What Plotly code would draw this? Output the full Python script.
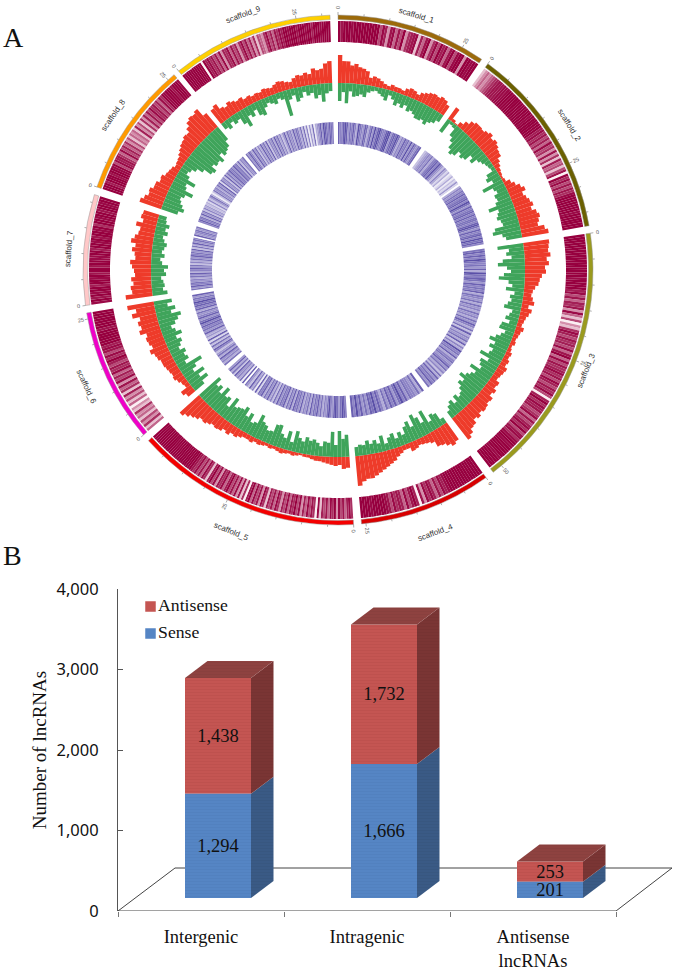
import math
import plotly.graph_objects as go

W, H = 675, 970
CX, CY, RMAX = 338, 270, 262

# ---------- Panel A data ----------
SCAFFOLDS = ["scaffold_1","scaffold_2","scaffold_3","scaffold_4","scaffold_5","scaffold_6","scaffold_7","scaffold_8","scaffold_9"]
SECTOR_START = [0.0, 36.0, 81.7, 144.5, 176.5, 229.7, 262.0, 289.0, 321.3]
SECTOR_END = [34.3, 80.0, 142.5, 174.7, 228.0, 260.3, 287.2, 320.0, 358.2]
BAND_COLORS = ["#9C6A0A","#6B6000","#9A9A1E","#D80000","#F40000","#F000C8","#FFC8C8","#FF9A00","#FFD000"]
TICK_LABELS = [[0,25],[0,25],[0,25,50],[0,25],[0,25],[0,25],[0],[0,25],[0,25]]

RED_1 = [28,22,22,18,20,17,16,14,8,10,9,7,5,4,6,5,5,4,7,9,8,6,9,11,13,14,13,15,14,11]
GREEN_1 = [18,9,20,8,13,12,10,12,7,5,4,6,8,11,5,8,13,10,13,9,14,12,14,17,17,15,18,14,12,8]
RED_2 = [14,3,1,5,9,13,15,15,14,16,18,15,17,15,13,12,8,6,4,3,2,3,7,10,14,17,13,15,17,19,16,20,22,20,18,24,27]
GREEN_2 = [15,3,4,12,16,22,26,24,18,21,19,12,16,10,8,6,5,4,11,14,9,22,12,10,14,13,16,25,16,18,20,17,16,25,28,19,16]
RED_3 = [26,25,24,26,22,24,20,21,17,15,14,11,9,8,10,12,7,11,9,7,6,5,8,6,5,4,5,3,4,6,5,7,6,9,8,7,6,10,9,12,10,14,13,15,16,14,17,15,19,20,24,27]
GREEN_3 = [26,15,18,13,22,27,18,14,21,26,16,12,18,9,13,11,14,17,8,10,13,8,15,16,9,12,16,21,14,18,13,15,23,12,19,17,14,24,16,19,22,27,20,23,18,14,12,16,10,15,12,8]
RED_4 = [21,23,20,17,16,10,8,7,6,8,9,5,5,7,9,12,14,16,18,20,22,24,24,26,30]
GREEN_4 = [6,14,16,10,24,13,20,25,14,21,17,10,14,9,15,12,7,16,9,13,10,14,10,11,9]
RED_5 = [11,12,8,9,8,7,6,5,5,4,3,3,2,3,4,3,4,5,4,3,4,3,4,5,4,6,5,5,7,9,8,11,9,12,13,12,14,16,15,18,20,23,26]
GREEN_5 = [22,18,26,12,25,14,15,10,13,16,14,17,12,15,21,9,19,11,14,22,21,13,12,16,18,24,14,12,20,15,23,19,18,16,24,12,20,18,26,17,23,20,27]
RED_6 = [9,12,5,6,8,10,9,10,11,12,12,14,15,18,14,16,17,15,21,18,20,17,24,19,27]
GREEN_6 = [12,20,13,21,11,16,25,9,14,12,15,10,13,16,12,19,14,11,16,20,24,15,20,13,18]
RED_7 = [27,20,21,18,20,16,17,19,21,16,17,20,17,22,19,16,15,20,14,17,16]
GREEN_7 = [15,11,13,12,10,15,13,17,11,9,13,10,12,14,11,9,13,10,13,9,8]
RED_8 = [23,20,17,18,15,15,12,13,10,9,8,6,7,8,10,12,14,15,17,16,20,24,26,25,27,18]
GREEN_8 = [17,22,19,16,14,17,24,15,13,21,12,8,10,14,20,28,30,24,27,26,29,22,26,24,22,16]
RED_9 = [17,19,13,11,14,12,10,11,8,9,7,8,7,9,8,7,9,11,10,8,7,10,12,11,13,11,16,14,15,20,22]
GREEN_9 = [7,10,5,9,7,14,19,9,12,7,14,16,9,6,8,10,6,8,26,10,7,14,11,6,10,8,14,11,18,10,8]

# density per cell, 0 = dense (dark) ... 9 = empty (white)
HEAT_1 = "02000100000000005137216250743218362074150316205100700100"
HEAT_2 = "8767654322211100000000000001000000314253615472748365852904152524100000001000000"
HEAT_3 = "0000000000000000010000315263427168597841352435162061524314251352415930413254162531405214100100000100000"
HEAT_4 = "00000000000000131526314172930251632415210000010000"
HEAT_5 = "4136251704162538194251637150426153741625384172516039482716250361427150384162514200000000000000000000000"
HEAT_6 = "6847586748796857384627153614253041521300000020000000"
HEAT_7 = "10201003001020020011003001020010400100200100"
HEAT_8 = "0003000200105132461536475867683758473625142536140100020001"
HEAT_9 = "000000000090314252617341625374152637485674153624130010002000100300010000"
BLUE_1 = "1331014231350234125314031023310042120253413240413421"
BLUE_2 = "6543425321303463575875867479534231321302413213132231024132130213"
BLUE_3 = "2131302324150231241323152342524352435241352615342516350324153243142536251423142"
BLUE_4 = "152433241302413142531302142413031"
BLUE_5 = "3102420143024352413241524351423151425132415263514251327183516429182534162514"
BLUE_6 = "2534152463152627164514231302413425131203241"
BLUE_7 = "2413243524153142635241324162514239143242"
BLUE_8 = "313251426354657364258624352417243615241324132516342"
BLUE_9 = "2413514263514251634251425364152435142352627384728543140123123"

RED = [RED_1,RED_2,RED_3,RED_4,RED_5,RED_6,RED_7,RED_8,RED_9]
GREEN = [GREEN_1,GREEN_2,GREEN_3,GREEN_4,GREEN_5,GREEN_6,GREEN_7,GREEN_8,GREEN_9]
HEAT = [HEAT_1,HEAT_2,HEAT_3,HEAT_4,HEAT_5,HEAT_6,HEAT_7,HEAT_8,HEAT_9]
BLUE = [BLUE_1,BLUE_2,BLUE_3,BLUE_4,BLUE_5,BLUE_6,BLUE_7,BLUE_8,BLUE_9]

# ---------- Panel B data ----------
CATEGORIES = ["Intergenic", "Intragenic", "Antisense<br>lncRNAs"]
SENSE = [1294, 1666, 201]
ANTISENSE = [1438, 1732, 253]

fig = go.Figure()

def cells(values):
    th, wd, val = [], [], []
    for s, (a, b) in enumerate(zip(SECTOR_START, SECTOR_END)):
        n = len(values[s]); w = (b - a) / n
        for i, v in enumerate(values[s]):
            th.append(a + (i + .5) * w); wd.append(w * 1.02); val.append(int(v))
    return th, wd, val

# colored outer band
fig.add_trace(go.Barpolar(theta=[(a+b)/2 for a,b in zip(SECTOR_START,SECTOR_END)],
    width=[b-a for a,b in zip(SECTOR_START,SECTOR_END)], r=[4.5]*9, base=[250.5]*9,
    marker=dict(color=BAND_COLORS, line=dict(width=.5, color="#999999")), showlegend=False, hoverinfo="skip"))

# heat rings
RING_SCALES = [
    [[0,"#97003F"],[.4,"#A5255A"],[.7,"#C66E92"],[1,"#FBEFF3"]],
    [[0,"#5B50A8"],[.35,"#8F87C6"],[.7,"#CBC6E5"],[1,"#FFFFFF"]],
]
for vals, base, thick, scale in [(HEAT, 228, 21, RING_SCALES[0]), (BLUE, 126, 22, RING_SCALES[1])]:
    th, wd, val = cells(vals)
    fig.add_trace(go.Barpolar(theta=th, width=wd, r=[thick]*len(th), base=[base]*len(th),
        marker=dict(color=val, colorscale=scale, cmin=0, cmax=9, showscale=False, line=dict(width=0)),
        showlegend=False, hoverinfo="skip"))

# histogram ring
BASELINE = 187
th, wd, val = cells(RED)
fig.add_trace(go.Barpolar(theta=th, width=wd, r=val, base=[BASELINE]*len(th),
    marker=dict(color="#EE3B2A", line=dict(width=0)), showlegend=False, hoverinfo="skip"))
th, wd, val = cells(GREEN)
fig.add_trace(go.Barpolar(theta=th, width=wd, r=val, base=[BASELINE-v for v in val],
    marker=dict(color="#3FA45B", line=dict(width=0)), showlegend=False, hoverinfo="skip"))

# ticks on the outer band
DEG_PER_UNIT = 29.2 / 25
tt, tr = [], []
for a, b in zip(SECTOR_START, SECTOR_END):
    u = 0
    while a + u * DEG_PER_UNIT <= b + .01:
        t = a + u * DEG_PER_UNIT
        tt += [t, t, None]; tr += [255, 258 if u % 25 == 0 else 257, None]
        u += 5
fig.add_trace(go.Scatterpolar(theta=tt, r=tr, mode="lines", line=dict(color="#888888", width=.7),
    showlegend=False, hoverinfo="skip"))

def pol2paper(theta, r):
    t = math.radians(theta)
    return (CX + r * math.sin(t)) / W, 1 - (CY - r * math.cos(t)) / H

def upright(theta):
    theta %= 360
    if theta < 90: return theta
    if theta < 270: return theta - 180
    return theta - 360

annotations = []
LABEL_R = [266, 273, 268, 280, 282, 277, 270, 273, 272]
for name, a, b, r in zip(SCAFFOLDS, SECTOR_START, SECTOR_END, LABEL_R):
    m = (a + b) / 2
    x, y = pol2paper(m, r)
    annotations.append(dict(x=x, y=y, xref="paper", yref="paper", text=name, showarrow=False,
        xanchor="center", yanchor="middle", textangle=upright(m),
        font=dict(family="Liberation Sans", size=8, color="#333333")))
for a, labs in zip(SECTOR_START, TICK_LABELS):
    for u in labs:
        t = a + u * DEG_PER_UNIT
        x, y = pol2paper(t, 262)
        annotations.append(dict(x=x, y=y, xref="paper", yref="paper", text=str(u), showarrow=False,
            xanchor="center", yanchor="middle", textangle=upright(t + 90 if t < 180 else t - 90),
            font=dict(family="Liberation Sans", size=5.5, color="#555555")))

for letter, px, py in [("A", 13, 38), ("B", 12, 555)]:
    annotations.append(dict(x=px/W, y=1-py/H, xref="paper", yref="paper", text=letter, showarrow=False,
        xanchor="center", yanchor="middle", font=dict(family="Liberation Serif", size=28, color="#111111")))

# ---------- Panel B ----------
PX_LEFT, PX_RIGHT, PX_CAT = 118, 675, 166
Y0, Y4000 = 911, 589
UNIT = (Y0 - Y4000) / 4000
BAR_BASE = 13 / UNIT
OFFSET = 17 / PX_CAT + .5
BAR_W = 66 / PX_CAT
DX, DY = 22.5 / PX_CAT, 17 / UNIT
pos = [i + OFFSET for i in range(3)]
sfont = "Liberation Serif"
RF, RS, RT = "#C45552", "#7A3534", "#8E4240"
BF, BS = "#5585C4", "#3A5A85"

fig.add_trace(go.Bar(x=pos, y=ANTISENSE, base=[BAR_BASE + s for s in SENSE], width=BAR_W, name="Antisense",
    marker=dict(color=RF, line=dict(width=0), pattern=dict(shape="-", size=3, solidity=.25, fgcolor="#B54A48")),
    text=[f"{v:,}" for v in ANTISENSE], textposition="inside", insidetextanchor="middle", textangle=0,
    textfont=dict(family=sfont, size=18.5, color="#111111"), constraintext="none", hoverinfo="skip"))
fig.add_trace(go.Bar(x=pos, y=SENSE, base=[BAR_BASE]*3, width=BAR_W, name="Sense",
    marker=dict(color=BF, line=dict(width=0), pattern=dict(shape="-", size=3, solidity=.25, fgcolor="#4D7BB8")),
    text=[f"{v:,}" for v in SENSE], textposition="inside", insidetextanchor="middle", textangle=0,
    textfont=dict(family=sfont, size=18.5, color="#111111"), constraintext="none", hoverinfo="skip"))

def face(xs, ys, color):
    fig.add_trace(go.Scatter(x=xs, y=ys, mode="lines", fill="toself", fillcolor=color, line=dict(width=0),
        showlegend=False, hoverinfo="skip", fillpattern=dict(shape="-", size=3, solidity=.2, fgcolor="rgba(0,0,0,.12)", bgcolor=color)))

for p, s, a in zip(pos, SENSE, ANTISENSE):
    x1, x0 = p + BAR_W/2, p - BAR_W/2
    b0, b1, b2 = BAR_BASE, BAR_BASE + s, BAR_BASE + s + a
    face([x1, x1+DX, x1+DX, x1], [b0, b0+DY, b1+DY, b1], BS)
    face([x1, x1+DX, x1+DX, x1], [b1, b1+DY, b2+DY, b2], RS)
    face([x0, x0+DX, x1+DX, x1], [b2, b2+DY, b2+DY, b2], RT)

# legend keys, placed in the chart's own coordinates
LEGEND_X = (150.5 - PX_LEFT) / PX_CAT
for name, color, py in [("Antisense", RF, 606.5), ("Sense", BF, 633.5)]:
    fig.add_trace(go.Scatter(x=[LEGEND_X], y=[(Y0 - py) / UNIT], mode="markers+text", text=[name],
        textposition="middle right", marker=dict(symbol="square", size=10.5, color=color),
        textfont=dict(family=sfont, size=17.7, color="#111111"), showlegend=False, hoverinfo="skip"))

# floor of the 3-D plot
FLOOR_BACK = 43 / UNIT
FX0, FX1 = (175 - PX_LEFT) / PX_CAT, (672 - PX_LEFT) / PX_CAT
shapes = [dict(type="path", xref="x", yref="y", layer="below",
    path=f"M 0 0 L {FX0} {FLOOR_BACK} L {FX1} {FLOOR_BACK} L 3 0 Z", line=dict(color="#444444", width=1))]

# invisible carrier of the category axis
fig.add_trace(go.Scatter(x=[.5,1.5,2.5], y=[0,0,0], xaxis="x2", mode="markers", marker=dict(opacity=0),
    showlegend=False, hoverinfo="skip"))

axis_range = [0, (PX_RIGHT - PX_LEFT) / PX_CAT]
fig.update_layout(
    width=W, height=H, margin=dict(l=0, r=0, t=0, b=0, autoexpand=False), paper_bgcolor="white", plot_bgcolor="rgba(0,0,0,0)",
    barmode="overlay", showlegend=False,
    polar=dict(domain=dict(x=[(CX-RMAX)/W, (CX+RMAX)/W], y=[1-(CY+RMAX)/H, 1-(CY-RMAX)/H]),
        bgcolor="rgba(0,0,0,0)",
        radialaxis=dict(visible=False, range=[0, RMAX]),
        angularaxis=dict(visible=False, direction="clockwise", rotation=90)),
    xaxis=dict(domain=[PX_LEFT/W, 1], range=axis_range, tickvals=[0,1,2,3], ticktext=["","","",""], ticks="outside",
        ticklen=5, tickcolor="#777777", showline=False, showgrid=False, zeroline=False, anchor="y"),
    xaxis2=dict(domain=[PX_LEFT/W, 1], range=axis_range, overlaying="x", side="bottom", anchor="y",
        tickvals=[.5,1.5,2.5], ticktext=CATEGORIES, ticks="outside", ticklen=9, tickcolor="rgba(0,0,0,0)",
        showline=False, showgrid=False, zeroline=False,
        tickfont=dict(family=sfont, size=18.5, color="#111111")),
    yaxis=dict(domain=[1-Y0/H, 1-Y4000/H], range=[0,4000], tickvals=[0,1000,2000,3000,4000], tickformat=",",
        ticks="inside", ticklen=5, tickcolor="#555555", showline=True, linecolor="#555555", linewidth=1,
        showgrid=False, zeroline=False, ticklabelstandoff=15, tickfont=dict(family="Noto Sans", size=16.5, color="#111111"),
        title=dict(text="Number of lncRNAs", font=dict(family=sfont, size=19, color="#111111"), standoff=4)),
    shapes=shapes, annotations=annotations)

fig.write_html("out.html", config=dict(displayModeBar=False), post_script="document.body.style.margin='0';")
